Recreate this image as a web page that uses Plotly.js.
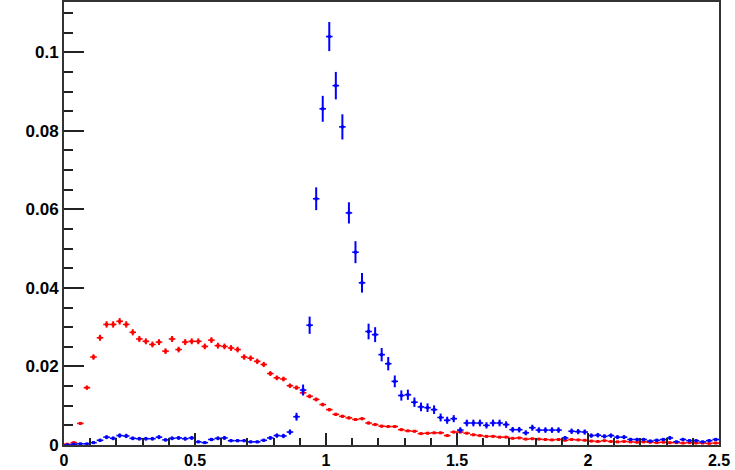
<!DOCTYPE html>
<html>
<head>
<meta charset="utf-8">
<script src="https://cdn.plot.ly/plotly-3.0.1.min.js"></script>
<style>
html,body{margin:0;padding:0;background:#fff;}
#chart{width:735px;height:470px;}
</style>
</head>
<body>
<div id="chart"></div>
<script>
// Bin centers (bin width 0.025, range 0 to 2.5)
var binCenters = [
0.0125,0.0375,0.0625,0.0875,0.1125,0.1375,0.1625,0.1875,0.2125,0.2375,
0.2625,0.2875,0.3125,0.3375,0.3625,0.3875,0.4125,0.4375,0.4625,0.4875,
0.5125,0.5375,0.5625,0.5875,0.6125,0.6375,0.6625,0.6875,0.7125,0.7375,
0.7625,0.7875,0.8125,0.8375,0.8625,0.8875,0.9125,0.9375,0.9625,0.9875,
1.0125,1.0375,1.0625,1.0875,1.1125,1.1375,1.1625,1.1875,1.2125,1.2375,
1.2625,1.2875,1.3125,1.3375,1.3625,1.3875,1.4125,1.4375,1.4625,1.4875,
1.5125,1.5375,1.5625,1.5875,1.6125,1.6375,1.6625,1.6875,1.7125,1.7375,
1.7625,1.7875,1.8125,1.8375,1.8625,1.8875,1.9125,1.9375,1.9625,1.9875,
2.0125,2.0375,2.0625,2.0875,2.1125,2.1375,2.1625,2.1875,2.2125,2.2375,
2.2625,2.2875,2.3125,2.3375,2.3625,2.3875,2.4125,2.4375,2.4625,2.4875
];
var halfBin = [0.0125];

var redValues = [
0.0002,0.0006,0.0055,0.0146,0.0224,0.0273,0.0307,0.0307,0.0315,0.0307,
0.0287,0.0270,0.0264,0.0256,0.0262,0.0239,0.0270,0.0243,0.0262,0.0264,
0.0264,0.0251,0.0267,0.0253,0.0251,0.0247,0.0243,0.0224,0.0221,0.0213,
0.0205,0.0182,0.0171,0.0168,0.0151,0.0146,0.0133,0.0124,0.0116,0.0103,
0.0090,0.0078,0.0073,0.0069,0.0065,0.0067,0.0056,0.0052,0.0048,0.0047,
0.0047,0.0039,0.0036,0.0035,0.0029,0.0030,0.0031,0.0031,0.0024,0.0033,
0.0033,0.0030,0.0026,0.0024,0.0022,0.0022,0.0020,0.0020,0.0017,0.0018,
0.0015,0.0016,0.0015,0.0014,0.0013,0.0014,0.0012,0.0014,0.0013,0.0012,
0.0010,0.0009,0.0011,0.0009,0.0008,0.0009,0.0008,0.0007,0.0008,0.0007,
0.0006,0.0007,0.0006,0.0006,0.0005,0.0006,0.0005,0.0005,0.0004,0.0005
];
var redErrors = [
0.00007,0.00011,0.00034,0.00056,0.00069,0.00076,0.00081,0.00081,0.00082,0.00081,
0.00078,0.00076,0.00075,0.00074,0.00075,0.00071,0.00076,0.00072,0.00075,0.00075,
0.00075,0.00073,0.00075,0.00073,0.00073,0.00073,0.00072,0.00069,0.00069,0.00067,
0.00066,0.00062,0.00060,0.00060,0.00057,0.00056,0.00053,0.00051,0.00050,0.00047,
0.00044,0.00041,0.00039,0.00038,0.00037,0.00038,0.00035,0.00033,0.00032,0.00032,
0.00032,0.00029,0.00028,0.00027,0.00025,0.00025,0.00026,0.00026,0.00023,0.00027,
0.00027,0.00025,0.00024,0.00023,0.00022,0.00022,0.00021,0.00021,0.00019,0.00020,
0.00018,0.00018,0.00018,0.00017,0.00017,0.00017,0.00016,0.00017,0.00017,0.00016,
0.00015,0.00014,0.00015,0.00014,0.00013,0.00014,0.00013,0.00012,0.00013,0.00012,
0.00011,0.00012,0.00011,0.00011,0.00010,0.00011,0.00010,0.00010,0.00009,0.00010
];

var blueValues = [
0.0000,0.0002,0.0003,0.0003,0.0006,0.0012,0.0020,0.0017,0.0024,0.0023,
0.0017,0.0016,0.0016,0.0016,0.0020,0.0013,0.0017,0.0018,0.0016,0.0018,
0.0008,0.0006,0.0014,0.0017,0.0018,0.0011,0.0011,0.0011,0.0008,0.0008,
0.0012,0.0018,0.0024,0.0023,0.0033,0.0072,0.0140,0.0305,0.0627,0.0856,
0.1040,0.0915,0.0810,0.0591,0.0491,0.0413,0.0289,0.0281,0.0230,0.0207,
0.0162,0.0126,0.0128,0.0109,0.0097,0.0095,0.0090,0.0070,0.0063,0.0067,
0.0038,0.0056,0.0056,0.0056,0.0050,0.0056,0.0056,0.0052,0.0039,0.0039,
0.0031,0.0044,0.0038,0.0038,0.0038,0.0038,0.0018,0.0035,0.0034,0.0033,
0.0024,0.0025,0.0022,0.0024,0.0020,0.0020,0.0014,0.0014,0.0014,0.0010,
0.0012,0.0014,0.0018,0.0008,0.0014,0.0011,0.0011,0.0008,0.0011,0.0014
];
var blueErrors = [
0.00000,0.00016,0.00020,0.00020,0.00030,0.00040,0.00050,0.00047,0.00056,0.00055,
0.00047,0.00046,0.00046,0.00046,0.00050,0.00040,0.00047,0.00049,0.00049,0.00049,
0.00032,0.00030,0.00043,0.00047,0.00049,0.00038,0.00038,0.00038,0.00032,0.00032,
0.00040,0.00049,0.00056,0.00055,0.00066,0.00100,0.00140,0.00220,0.00290,0.00330,
0.00370,0.00350,0.00320,0.00270,0.00280,0.00250,0.00200,0.00190,0.00170,0.00170,
0.00150,0.00130,0.00130,0.00120,0.00110,0.00110,0.00110,0.00100,0.00090,0.00090,
0.00070,0.00086,0.00086,0.00086,0.00080,0.00086,0.00086,0.00083,0.00070,0.00070,
0.00064,0.00076,0.00070,0.00070,0.00070,0.00070,0.00049,0.00068,0.00067,0.00066,
0.00056,0.00057,0.00054,0.00056,0.00051,0.00051,0.00043,0.00043,0.00043,0.00036,
0.00040,0.00043,0.00049,0.00032,0.00043,0.00038,0.00038,0.00032,0.00038,0.00043
];

var xTickVals = [0, 0.5, 1, 1.5, 2, 2.5];
var xTickText = ["0", "0.5", "1", "1.5", "2", "2.5"];
var yTickVals = [0, 0.02, 0.04, 0.06, 0.08, 0.1];
var yTickText = ["0", "0.02", "0.04", "0.06", "0.08", "0.1"];

function histTrace(vals, errs, color) {
  return {
    type: 'scatter',
    mode: 'markers',
    x: binCenters,
    y: vals,
    marker: {color: color, size: 3, symbol: 'square'},
    error_y: {type: 'data', array: errs, visible: true, color: color, thickness: 2, width: 0},
    error_x: {type: 'constant', value: halfBin[0], visible: true, color: color, thickness: 1.6, width: 0},
    hoverinfo: 'x+y',
    showlegend: false
  };
}

var data = [
  histTrace(redValues, redErrors, '#ff0000'),
  histTrace(blueValues, blueErrors, '#0000ff')
];

var fontFamily = '"Liberation Sans", Arial, Helvetica, sans-serif';

var layout = {
  width: 735,
  height: 470,
  margin: {l: 64, r: 16, t: 2, b: 25, pad: 0},
  paper_bgcolor: '#ffffff',
  plot_bgcolor: '#ffffff',
  showlegend: false,
  xaxis: {
    range: [0, 2.5],
    tickmode: 'array',
    tickvals: xTickVals,
    ticktext: xTickText,
    ticks: 'inside',
    ticklen: 12,
    tickwidth: 2,
    tickcolor: '#222',
    minor: {dtick: 0.1, tick0: 0, ticks: 'inside', ticklen: 7, tickwidth: 2, tickcolor: '#222', showgrid: false},
    showgrid: false,
    zeroline: false,
    showline: true,
    linecolor: '#333',
    linewidth: 2,
    mirror: true,
    tickfont: {family: fontFamily, size: 16, color: '#000', weight: 'bold'},
    fixedrange: true
  },
  yaxis: {
    range: [0, 0.1128],
    tickmode: 'array',
    tickvals: yTickVals,
    ticktext: yTickText,
    ticks: 'inside',
    ticklen: 20,
    tickwidth: 2,
    tickcolor: '#222',
    minor: {dtick: 0.005, tick0: 0, ticks: 'inside', ticklen: 9, tickwidth: 2, tickcolor: '#222', showgrid: false},
    showgrid: false,
    zeroline: false,
    showline: true,
    linecolor: '#333',
    linewidth: 2,
    mirror: true,
    tickfont: {family: fontFamily, size: 17, color: '#000', weight: 'bold'},
    fixedrange: true
  }
};

Plotly.newPlot('chart', data, layout, {displayModeBar: false, staticPlot: true});
</script>
</body>
</html>
